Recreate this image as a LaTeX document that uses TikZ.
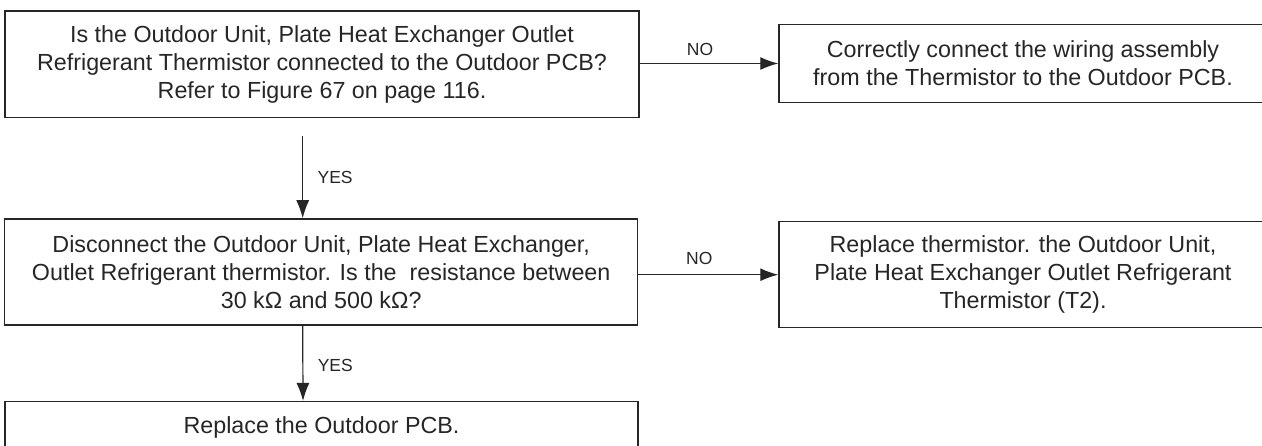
\documentclass[tikz,border=0pt]{standalone}
\usepackage{fontspec}
\setmainfont{Liberation Sans}
\usetikzlibrary{arrows.meta}
\definecolor{inkgray}{rgb}{0.15,0.15,0.15}

\begin{document}
\begin{tikzpicture}[x=1pt, y=-1pt,
    stepbox/.style={draw=inkgray, line width=1.5pt, align=center, inner sep=0pt,
        text=inkgray, font=\fontsize{23.3}{28}\selectfont},
    flow/.style={draw=inkgray, line width=1.2pt, -{Latex[length=18pt, width=13pt]}},
    tag/.style={text=inkgray, inner sep=0pt, font=\fontsize{17.5}{20}\selectfont}]
\useasboundingbox (0,0) rectangle (1262,446);
% left column
\node[stepbox, minimum width=634pt, minimum height=106.7pt] (q1) at (322,64.3)
    {Is the Outdoor Unit, Plate Heat Exchanger Outlet\\
     Refrigerant Thermistor connected to the Outdoor PCB?\\
     Refer to Figure 67 on page 116.};
\node[stepbox, minimum width=633pt, minimum height=106pt] (q2) at (321.2,272)
    {Disconnect the Outdoor Unit, Plate Heat Exchanger,\\
     Outlet Refrigerant thermistor. Is the\ \ resistance between\\
     30 kΩ and 500 kΩ?};
\node[stepbox, minimum width=633pt, minimum height=51.4pt] (pcb) at (321.5,427.4)
    {Replace the Outdoor PCB.};
% right column
\node[stepbox, minimum width=488pt, minimum height=78.4pt] (fix1) at (1023,63.5)
    {Correctly connect the wiring assembly\\
     from the Thermistor to the Outdoor PCB.};
\node[stepbox, minimum width=488pt, minimum height=106pt] (fix2) at (1023,274.7)
    {Replace thermistor. the Outdoor Unit,\\
     Plate Heat Exchanger Outlet Refrigerant\\
     Thermistor (T2).};
% connectors
\coordinate (y1) at ([xshift=-19.3pt, yshift=-18pt]q1.south);
\draw[flow] (y1) -- (y1 |- q2.north) node[tag, midway, anchor=west, xshift=14.3pt] {YES};
\draw[flow] ([xshift=-18.5pt]q2.south) -- ([xshift=-18.5pt]pcb.north)
    node[tag, midway, anchor=west, xshift=14.3pt, yshift=-2pt] {YES};
\draw[flow] (q1.east |- fix1.west) -- (fix1.west)
    node[tag, midway, xshift=-9pt, yshift=14pt] {NO};
\draw[flow] (q2.east |- fix2.west) -- (fix2.west)
    node[tag, midway, xshift=-9pt, yshift=16pt] {NO};
\end{tikzpicture}
\end{document}
